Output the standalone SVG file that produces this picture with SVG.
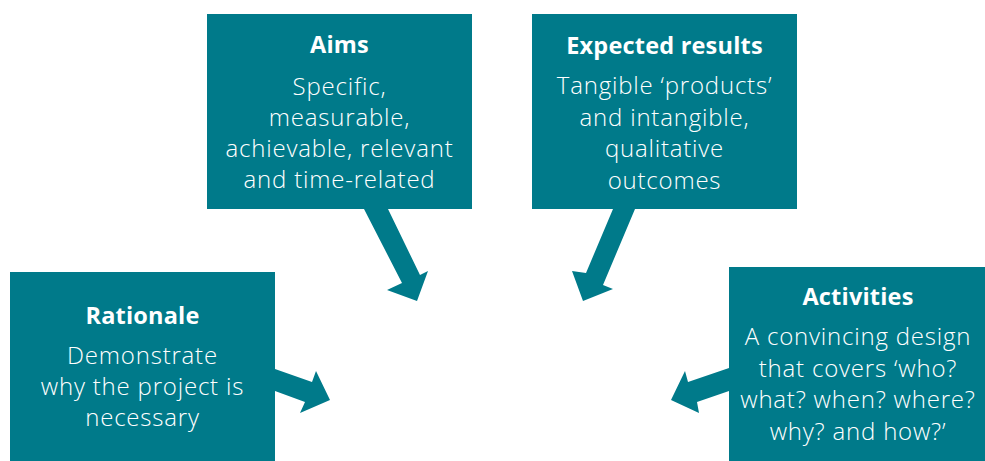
<svg xmlns="http://www.w3.org/2000/svg" width="985" height="461" viewBox="0 0 985 461">
<style>
.box{fill:#007A8A;}
.arr{fill:#007A8A;}
.t{font-family:"Open Sans","Liberation Sans",sans-serif;font-size:23.5px;font-weight:700;fill:#FFFFFF;text-anchor:middle;letter-spacing:0.2px;}
.b{font-family:"Open Sans","Liberation Sans",sans-serif;font-size:24px;font-weight:300;fill:#FFFFFF;text-anchor:middle;letter-spacing:0.8px;}
</style>
<rect width="985" height="461" fill="#FFFFFF"/>
<g id="connectors">
<polygon class="arr" points="364,209 402,283 387,290 417,301 428,271 420,275 388,209"/>
<polygon class="arr" points="635,209 603,285 613,289 583,301 572,271 586,273 613,209"/>
<polygon class="arr" points="275,369 312,382 316,371 330,400 300,413 305,402 275,391"/>
<polygon class="arr" points="729,368 688,382 685,371 671,400 699,413 697,402 729,391"/>
</g>
<g id="aims">
<rect class="box" x="207" y="14" width="265" height="195"/>
<text class="t" x="339.5" y="53">Aims</text>
<text class="b" x="339.5" y="95">Specific,</text>
<text class="b" x="339.5" y="126">measurable,</text>
<text class="b" x="339.5" y="157">achievable, relevant</text>
<text class="b" x="339.5" y="188">and time-related</text>
</g>
<g id="expected-results">
<rect class="box" x="532" y="14" width="265" height="195"/>
<text class="t" x="664.5" y="54">Expected results</text>
<text class="b" x="664.5" y="94">Tangible ‘products’</text>
<text class="b" x="664.5" y="126">and intangible,</text>
<text class="b" x="664.5" y="157">qualitative</text>
<text class="b" x="664.5" y="189">outcomes</text>
</g>
<g id="rationale">
<rect class="box" x="10" y="272" width="265" height="195"/>
<text class="t" x="142.5" y="324">Rationale</text>
<text class="b" x="142.5" y="364">Demonstrate</text>
<text class="b" x="142.5" y="395">why the project is</text>
<text class="b" x="142.5" y="426">necessary</text>
</g>
<g id="activities">
<rect class="box" x="729" y="267" width="265" height="200"/>
<text class="t" x="858" y="305">Activities</text>
<text class="b" x="858" y="345">A convincing design</text>
<text class="b" x="858" y="377">that covers ‘who?</text>
<text class="b" x="858" y="408">what? when? where?</text>
<text class="b" x="858" y="440">why? and how?’</text>
</g>
</svg>
